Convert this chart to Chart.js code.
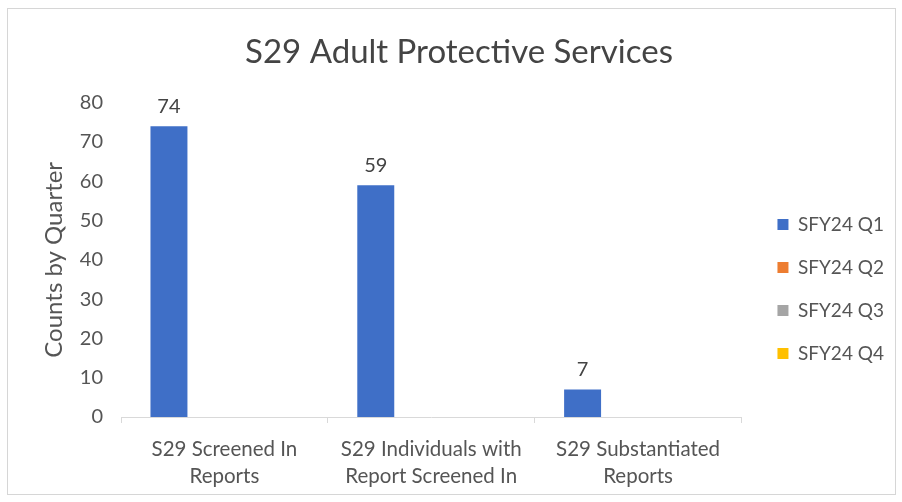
<!DOCTYPE html>
<html>
<head>
<meta charset="utf-8">
<script src="https://cdn.jsdelivr.net/npm/chart.js@4"></script>
<style>
  html, body { margin: 0; padding: 0; background: #fff; }
  #wrap { position: relative; width: 902px; height: 502px; }
  #frame { position: absolute; left: 7px; top: 8px; width: 887px; height: 485px; border: 1px solid #d6d6d6; pointer-events: none; }
</style>
</head>
<body>
<div id="wrap">
  <canvas id="chart" width="902" height="502"></canvas>
  <div id="frame"></div>
</div>
<script>
// categories (two-line tick labels)
const categories = [
    ['S29 Screened In', 'Reports'],
    ['S29 Individuals with', 'Report Screened In'],
    ['S29 Substantiated', 'Reports']
];
const seriesNames = ['SFY24 Q1', 'SFY24 Q2', 'SFY24 Q3', 'SFY24 Q4'];
const q1Values = [74, 59, 7];
const q2Values = [null, null, null];
const q3Values = [null, null, null];
const q4Values = [null, null, null];
const yTicks = [0, 10, 20, 30, 40, 50, 60, 70, 80];

const seriesColors = ['#3F6FC7', '#ED7D31', '#A5A5A5', '#FFC000'];
const textColor = '#555555';
const fontFamily = 'Lato, "Open Sans", sans-serif';

// draws the value above each bar (no datalabels plugin available offline)
const barValueLabels = {
    id: 'barValueLabels',
    afterDatasetsDraw(chart) {
        const { ctx } = chart;
        ctx.save();
        ctx.font = `20px ${fontFamily}`;
        ctx.fillStyle = '#444444';
        ctx.textAlign = 'center';
        ctx.textBaseline = 'bottom';
        chart.data.datasets.forEach((ds, i) => {
            const meta = chart.getDatasetMeta(i);
            if (meta.hidden) return;
            meta.data.forEach((bar, j) => {
                const v = ds.data[j];
                if (v === null || v === undefined) return;
                ctx.fillText(String(v), bar.x, bar.y - 10);
            });
        });
        ctx.restore();
    }
};

const allValues = [q1Values, q2Values, q3Values, q4Values];
const datasets = seriesNames.map((name, i) => ({
    label: name,
    data: allValues[i],
    backgroundColor: seriesColors[i],
    borderWidth: 0,
    barPercentage: 1.0,
    categoryPercentage: 0.715
}));

new Chart(document.getElementById('chart').getContext('2d'), {
    type: 'bar',
    data: { labels: categories, datasets },
    plugins: [barValueLabels],
    options: {
        responsive: false,
        animation: false,
        layout: { padding: { left: 24, right: 8, bottom: 14 } },
        plugins: {
            title: {
                display: true,
                text: 'S29 Adult Protective Services',
                color: '#444444',
                font: { family: fontFamily, size: 33, weight: 'normal' },
                padding: { top: 33, bottom: 30 }
            },
            legend: {
                position: 'right',
                // empty title only pushes the centred items down
                title: { display: true, text: ' ', font: { size: 10 }, padding: { top: 78, bottom: 0 } },
                labels: {
                    color: textColor,
                    font: { family: fontFamily, size: 19 },
                    boxWidth: 11,
                    boxHeight: 11,
                    padding: 24
                }
            },
            tooltip: { enabled: false }
        },
        scales: {
            x: {
                grid: { display: true, drawOnChartArea: false, drawTicks: true, tickLength: 6, color: '#d9d9d9', offset: true },
                border: { display: true, color: '#d9d9d9' },
                ticks: { color: textColor, font: { family: fontFamily, size: 20.5, lineHeight: 1.3 }, padding: 13, maxRotation: 0 },
                afterFit: scale => { scale.height = 71; }
            },
            y: {
                min: 0,
                max: 80,
                afterBuildTicks: axis => { axis.ticks = yTicks.map(v => ({ value: v })); },
                grid: { display: false, drawTicks: false },
                border: { display: false },
                ticks: { color: textColor, font: { family: fontFamily, size: 20 }, padding: 18 },
                title: {
                    display: true,
                    text: 'Counts by Quarter',
                    color: textColor,
                    font: { family: fontFamily, size: 24 },
                    padding: { top: 16, bottom: 0 }
                },
                afterFit: scale => { scale.width = 97; }
            },
            // empty right axis, only keeps a gap before the legend
            gap: {
                type: 'linear',
                position: 'right',
                display: true,
                grid: { display: false },
                border: { display: false },
                ticks: { display: false },
                afterFit: scale => { scale.width = 12; }
            }
        }
    }
});
</script>
</body>
</html>
